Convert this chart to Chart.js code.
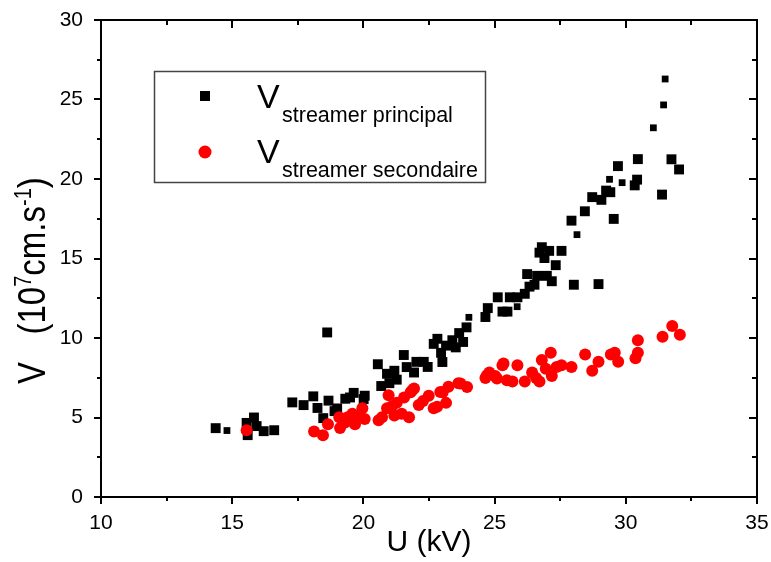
<!DOCTYPE html>
<html>
<head>
<meta charset="utf-8">
<script src="https://cdn.jsdelivr.net/npm/chart.js@4.4.1/dist/chart.umd.min.js"></script>
<style>
  html, body { margin: 0; padding: 0; background: #fff; }
  #wrap { width: 771px; height: 562px; position: relative; }
</style>
</head>
<body>
<div id="wrap"><canvas id="c" width="771" height="562"></canvas></div>
<script>
// ---- Data ----
const principalU = [14.37,14.8,15.55,15.59,15.83,15.93,16.2,16.6,17.29,17.72,18.09,18.25,18.47,18.62,18.67,18.9,19.0,19.31,19.49,19.63,20.01,20.05,20.55,20.68,20.9,20.99,21.18,21.27,21.54,21.65,21.93,22.02,22.3,22.45,22.68,22.82,22.96,23.01,23.15,23.39,23.52,23.65,23.8,23.93,24.02,24.65,24.74,25.12,25.3,25.49,25.58,25.86,25.87,26.15,26.24,26.33,26.52,26.62,26.71,26.8,26.9,26.99,27.08,27.18,27.33,27.55,27.93,28.02,28.14,28.44,28.72,28.96,29.07,29.25,29.38,29.41,29.54,29.7,29.86,30.34,30.43,30.46,31.05,31.38,31.44,31.5,31.74,32.03];
const principalV = [4.33,4.18,4.66,3.89,5.0,4.46,4.14,4.2,5.95,5.78,6.33,5.6,4.96,10.35,6.06,5.4,5.57,6.18,6.26,6.55,6.16,6.37,8.35,6.98,7.75,7.16,7.94,7.38,8.93,8.17,7.83,8.5,8.5,8.18,9.63,9.95,9.07,8.49,9.52,9.86,9.41,10.31,9.75,10.67,11.3,11.32,11.88,12.56,11.66,11.66,12.56,11.97,12.56,12.78,14.02,13.23,13.35,13.91,15.37,15.71,15.03,13.91,15.48,13.57,14.58,15.48,17.38,13.35,16.5,17.97,18.86,13.39,18.69,19.27,19.98,19.17,17.49,20.81,19.77,19.6,19.96,21.25,23.22,19.02,24.66,26.29,21.24,20.6];
const smallPrincipal = [1, 44, 51, 68, 74, 78, 82, 84, 85];

const secondaireU = [15.55,18.12,18.46,18.65,19.08,19.11,19.3,19.4,19.58,19.68,19.77,19.96,20.05,20.58,20.71,20.9,20.96,21.08,21.18,21.27,21.46,21.55,21.74,21.8,21.86,21.93,22.11,22.27,22.49,22.68,22.81,22.93,23.02,23.15,23.24,23.62,23.7,23.95,24.65,24.71,24.8,25.02,25.09,25.3,25.34,25.47,25.68,25.87,26.15,26.43,26.58,26.71,26.8,26.95,27.14,27.18,27.36,27.55,27.93,28.45,28.72,28.96,29.43,29.58,29.71,30.37,30.46,30.46,31.4,31.77,32.06];
const secondaireV = [4.2,4.12,3.89,4.57,5.02,4.34,4.68,5.02,5.24,4.57,5.02,5.58,4.91,4.83,5.02,5.58,6.4,5.7,5.13,5.92,5.24,6.26,5.02,6.59,6.72,6.82,5.78,6.03,6.37,5.58,5.67,6.61,6.59,5.92,6.93,7.16,7.14,6.92,7.49,7.66,7.83,7.61,7.45,8.28,8.39,7.34,7.27,8.28,7.27,7.83,7.49,7.27,8.62,8.06,9.07,7.61,8.17,8.28,8.17,8.96,7.94,8.5,8.96,9.07,8.5,8.73,9.07,9.86,10.08,10.76,10.2];

const xTicks = [10, 15, 20, 25, 30, 35];
const yTicks = [0, 5, 10, 15, 20, 25, 30];
const xTitle = 'U (kV)';
const legendLabels = ['streamer principal', 'streamer secondaire'];

const FONT = '"Liberation Sans", Arial, sans-serif';

const toPts = (xs, ys) => xs.map((x, i) => ({ x: x, y: ys[i] }));

// ---- Custom plugin: frame, ticks, titles, legend ----
const decor = {
  id: 'decor',
  afterDraw(chart) {
    const ctx = chart.ctx;
    const xs = chart.scales.x, ys = chart.scales.y;
    const L = chart.chartArea.left, R = chart.chartArea.right;
    const T = chart.chartArea.top, B = chart.chartArea.bottom;
    ctx.save();
    ctx.strokeStyle = '#000';
    ctx.lineWidth = 2;
    ctx.lineCap = 'butt';
    ctx.beginPath();
    ctx.rect(L, T, R - L, B - T);
    ctx.stroke();
    for (let v = 10; v <= 35.001; v += 2.5) {
      const px = Math.round(xs.getPixelForValue(v));
      const major = Math.abs(v / 5 - Math.round(v / 5)) < 1e-6;
      ctx.beginPath();
      ctx.moveTo(px, B); ctx.lineTo(px, B + (major ? 7 : 4));
      ctx.moveTo(px, T); ctx.lineTo(px, T + (major ? 8 : 5));
      ctx.stroke();
    }
    for (let v = 0; v <= 30.001; v += 2.5) {
      const py = Math.round(ys.getPixelForValue(v));
      const major = Math.abs(v / 5 - Math.round(v / 5)) < 1e-6;
      ctx.beginPath();
      ctx.moveTo(L, py); ctx.lineTo(L - (major ? 7 : 4), py);
      ctx.moveTo(R, py); ctx.lineTo(R - (major ? 8 : 5), py);
      ctx.stroke();
    }
    ctx.fillStyle = '#000';
    ctx.font = '30px ' + FONT;
    ctx.textAlign = 'center';
    ctx.textBaseline = 'alphabetic';
    ctx.fillText(xTitle, 429, 551);

    // y title: V  (10^7cm.s^-1), rotated
    ctx.save();
    ctx.translate(45, 384);
    ctx.rotate(-Math.PI / 2);
    ctx.scale(1, 1.15);
    ctx.textAlign = 'left';
    const big = '33px ' + FONT, sup = '20px ' + FONT;
    let cx = 0;
    const part = (t, f, dy) => { ctx.font = f; ctx.fillText(t, cx, dy); cx += ctx.measureText(t).width; };
    part('V   (10', big, 0);
    part('7', sup, -12);
    part('cm.s', big, 0);
    part('-1', sup, -12);
    part(')', big, 0);
    ctx.restore();

    // legend
    ctx.lineWidth = 1.5;
    ctx.strokeStyle = '#444';
    ctx.strokeRect(154.5, 71.5, 331, 111);
    ctx.fillStyle = '#000';
    ctx.fillRect(200, 91, 10, 10);
    ctx.fillStyle = '#ff0000';
    ctx.beginPath(); ctx.arc(205, 152, 6.5, 0, Math.PI * 2); ctx.fill();
    ctx.fillStyle = '#000';
    ctx.textAlign = 'left';
    ctx.font = '34px ' + FONT;
    ctx.fillText('V', 257, 108);
    ctx.fillText('V', 257, 163);
    ctx.font = '21.5px ' + FONT;
    ctx.fillText(legendLabels[0], 282, 122);
    ctx.fillText(legendLabels[1], 282, 177);
    ctx.restore();
  }
};

const smallSet = new Set(smallPrincipal);
const noPad = (s) => { s.paddingLeft = 0; s.paddingRight = 0; s.paddingTop = 0; s.paddingBottom = 0; };

new Chart(document.getElementById('c'), {
  type: 'scatter',
  data: {
    datasets: [
      {
        label: 'V streamer secondaire',
        data: toPts(secondaireU, secondaireV),
        pointStyle: 'circle',
        pointRadius: 6,
        pointBackgroundColor: '#ff0000',
        pointBorderWidth: 0,
        order: 0
      },
      {
        label: 'V streamer principal',
        data: toPts(principalU, principalV),
        pointStyle: 'rect',
        pointRadius: (c) => smallSet.has(c.dataIndex) ? 4.8 : 7,
        pointBackgroundColor: '#000',
        pointBorderWidth: 0,
        order: 1
      }
    ]
  },
  options: {
    responsive: false,
    animation: false,
    events: [],
    layout: { autoPadding: false, padding: { left: 0, top: 20, right: 14, bottom: 0 } },
    plugins: { legend: { display: false }, tooltip: { enabled: false }, title: { display: false } },
    scales: {
      x: {
        type: 'linear', position: 'bottom', min: 10, max: 35,
        afterBuildTicks: (s) => { s.ticks = xTicks.map(v => ({ value: v })); },
        ticks: { font: { family: FONT, size: 21 }, color: '#000', padding: 14, maxRotation: 0 },
        grid: { display: false, drawTicks: false },
        border: { display: false },
        afterFit: (s) => { s.height = 65; noPad(s); }
      },
      y: {
        type: 'linear', position: 'left', min: 0, max: 30,
        afterBuildTicks: (s) => { s.ticks = yTicks.map(v => ({ value: v })); },
        ticks: { font: { family: FONT, size: 21 }, color: '#000', padding: 18 },
        grid: { display: false, drawTicks: false },
        border: { display: false },
        afterFit: (s) => { s.width = 101; noPad(s); }
      }
    }
  },
  plugins: [decor]
});
</script>
</body>
</html>
